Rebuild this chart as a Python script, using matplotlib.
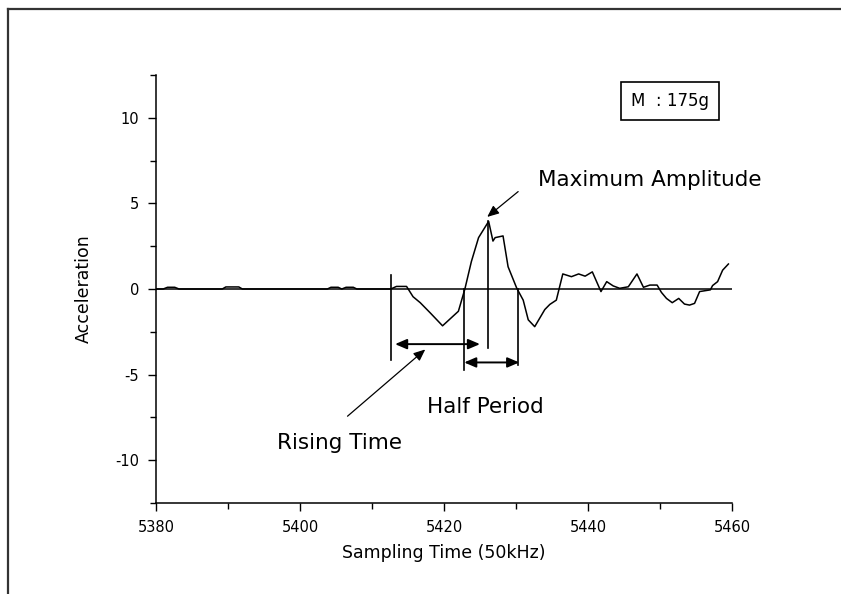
import matplotlib
matplotlib.use("Agg")
import matplotlib.pyplot as plt
from matplotlib.lines import Line2D
from matplotlib.ticker import MultipleLocator

# ---- data ----
time = [5380, 5381, 5381.6, 5382.6, 5383.2, 5389.2, 5389.7, 5391.5, 5392.0,
        5403.8, 5404.3, 5405.3, 5405.8, 5406.4, 5407.4, 5407.9, 5412.6,
        5413.4, 5414.8, 5415.7, 5416.7, 5418.1, 5419.8, 5422.0, 5422.9,
        5423.8, 5424.8, 5426.2, 5426.8, 5427.1, 5428.2, 5428.9, 5430.1,
        5431.0, 5431.7, 5432.6, 5434.0, 5434.7, 5435.6, 5436.5, 5437.7,
        5438.7, 5439.6, 5440.6, 5441.8, 5442.6, 5443.5, 5444.4, 5445.6,
        5446.8, 5447.7, 5448.6, 5449.6, 5450.2, 5450.9, 5451.7, 5452.6,
        5453.4, 5454.1, 5454.8, 5455.5, 5457.0, 5457.3, 5458.0, 5458.7,
        5459.5]
accel = [0, 0, 0.1, 0.1, 0, 0, 0.12, 0.12, 0,
         0, 0.1, 0.1, 0, 0.1, 0.1, 0, 0,
         0.15, 0.15, -0.45, -0.8, -1.4, -2.15, -1.3, 0.0,
         1.6, 3.0, 3.95, 2.8, 3.0, 3.1, 1.3, 0.05,
         -0.65, -1.8, -2.2, -1.2, -0.9, -0.65, 0.88, 0.72,
         0.88, 0.75, 1.0, -0.15, 0.43, 0.18, 0.04, 0.13,
         0.88, 0.1, 0.23, 0.23, -0.2, -0.55, -0.8, -0.55,
         -0.88, -0.94, -0.84, -0.15, -0.05, 0.2, 0.43, 1.1,
         1.46]

xticks = [5380, 5400, 5420, 5440, 5460]
xticklabels = ["5380", "5400", "5420", "5440", "5460"]
yticks = [-10, -5, 0, 5, 10]
yticklabels = ["-10", "-5", "0", "5", "10"]

# annotation geometry (data units)
v_lines = [(5412.6, 0.82, -4.15), (5422.8, 0.0, -4.74),
           (5426.15, 3.95, -3.45), (5430.3, 0.0, -4.44)]
rise_span = (5413.2, 5425.0, -3.22)
half_span = (5422.8, 5430.45, -4.29)

fig = plt.figure(figsize=(8.41, 5.94), dpi=100)
ax = fig.add_axes([156/841, 1-503/594, (732-156)/841, (503-75)/594])

ax.plot(time, accel, color="black", lw=1.1)
ax.axhline(0, color="black", lw=1.1)

ax.set_xlim(5380, 5460)
ax.set_ylim(-12.5, 12.5)
for s in ["top", "right"]:
    ax.spines[s].set_visible(False)
for s in ["left", "bottom"]:
    ax.spines[s].set_linewidth(1.1)

ax.set_xticks(xticks)
ax.set_xticklabels(xticklabels)
ax.set_yticks(yticks)
ax.set_yticklabels(yticklabels)
ax.xaxis.set_minor_locator(MultipleLocator(10))
ax.yaxis.set_minor_locator(MultipleLocator(2.5))
ax.tick_params(which="major", direction="out", length=6, width=1, labelsize=10.5, pad=6)
ax.tick_params(which="minor", direction="out", length=4, width=1)

ax.set_xlabel("Sampling Time (50kHz)", fontsize=12.5)
ax.set_ylabel("Acceleration", fontsize=12.5)
ax.xaxis.set_label_coords(0.5, -0.095)
ax.yaxis.set_label_coords(-0.11, 0.5)

for x, y0, y1 in v_lines:
    ax.plot([x, x], [y0, y1], color="black", lw=1.2)

ap = dict(arrowstyle="<|-|>,head_length=0.7,head_width=0.3", color="black",
          lw=1.4, shrinkA=0, shrinkB=0, mutation_scale=10)
ax.annotate("", xy=(rise_span[0], rise_span[2]), xytext=(rise_span[1], rise_span[2]), arrowprops=ap)
ax.annotate("", xy=(half_span[0], half_span[2]), xytext=(half_span[1], half_span[2]), arrowprops=ap)

sp = dict(arrowstyle="-|>,head_length=0.7,head_width=0.3", color="black",
          lw=0.9, shrinkA=0, shrinkB=0, mutation_scale=10)
ax.annotate("", xy=(5426.0, 4.21), xytext=(5430.3, 5.69), arrowprops=sp)
ax.annotate("", xy=(5417.4, -3.53), xytext=(5406.6, -7.43), arrowprops=sp)

ax.text(5433.05, 6.02, "Maximum Amplitude", fontsize=15.5, ha="left", va="baseline")
ax.text(5417.6, -7.23, "Half Period", fontsize=15.5, ha="left", va="baseline")
ax.text(5396.8, -9.36, "Rising Time", fontsize=15.5, ha="left", va="baseline")

ax.text(5451.4, 11.0, "M  : 175g", fontsize=12, ha="center", va="center",
        bbox=dict(boxstyle="square,pad=0.6", fc="white", ec="black", lw=1.2))

# figure frame (top and left edges)
fig.add_artist(Line2D([8/841, 1], [1-9/594, 1-9/594], color="#333333", lw=1.6,
                      transform=fig.transFigure))
fig.add_artist(Line2D([8/841, 8/841], [0, 1-9/594], color="#333333", lw=1.6,
                      transform=fig.transFigure))

fig.savefig("out.png", dpi=100)
